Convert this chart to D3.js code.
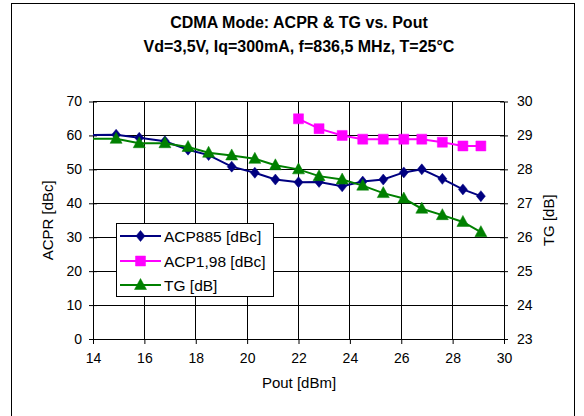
<!DOCTYPE html>
<html>
<head>
<meta charset="utf-8">
<script src="https://cdn.jsdelivr.net/npm/d3@7"></script>
<style>
  html, body { margin: 0; padding: 0; background: #fff; }
  svg { display: block; font-family: "Liberation Sans", Arial, sans-serif; }
</style>
</head>
<body>
<svg id="chart" width="584" height="416"></svg>
<script>
// ---- data ----
const pout = [13.0, 14.9, 15.8, 16.8, 17.7, 18.5, 19.4, 20.3, 21.1, 22.0, 22.8, 23.7, 24.5, 25.3, 26.1, 26.8, 27.6, 28.4, 29.1];
const acp885 = [60.0, 60.2, 59.3, 58.3, 55.8, 54.2, 50.8, 49.0, 47.0, 46.2, 46.3, 45.0, 46.4, 47.0, 49.1, 50.0, 47.2, 44.1, 42.1];
const acp198 = [null, null, null, null, null, null, null, null, null, 64.9, 62.0, 60.0, 58.9, 58.9, 58.9, 58.9, 58.0, 56.9, 56.9];
const tg = [28.9, 28.9, 28.77, 28.77, 28.66, 28.49, 28.41, 28.31, 28.12, 28.0, 27.8, 27.7, 27.52, 27.3, 27.14, 26.84, 26.65, 26.45, 26.15];
const xTicks = [14, 16, 18, 20, 22, 24, 26, 28, 30];
const yLeftTicks = [0, 10, 20, 30, 40, 50, 60, 70];
const yRightTicks = [23, 24, 25, 26, 27, 28, 29, 30];
const titleLines = ["CDMA Mode: ACPR & TG vs. Pout", "Vd=3,5V, Iq=300mA, f=836,5 MHz, T=25°C"];
const seriesNames = ["ACP885 [dBc]", "ACP1,98 [dBc]", "TG [dB]"];

// ---- layout ----
const svg = d3.select("#chart");
const L = 93, R = 504, T = 101.5, B = 339;
const FONT = '"Liberation Sans", Arial, sans-serif';

const x = d3.scaleLinear().domain([14, 30]).range([L, R]);
const yL = d3.scaleLinear().domain([0, 70]).range([B, T]);
const yR = d3.scaleLinear().domain([23, 30]).range([B, T]);

// outer frame
svg.append("rect").attr("x", 11.5).attr("y", 3.5).attr("width", 563).attr("height", 430)
  .attr("fill", "#fff").attr("stroke", "#000").attr("stroke-width", 1);

// titles
svg.append("text").attr("x", 299).attr("y", 28).attr("text-anchor", "middle")
  .attr("font-size", 16).attr("font-weight", "bold").text(titleLines[0]);
svg.append("text").attr("x", 299).attr("y", 52).attr("text-anchor", "middle")
  .attr("font-size", 16).attr("font-weight", "bold").text(titleLines[1]);

// gridlines
const grid = svg.append("g").attr("stroke", "#000").attr("stroke-width", 1).attr("shape-rendering", "crispEdges");
yLeftTicks.forEach(v => grid.append("line").attr("x1", L).attr("x2", R).attr("y1", yL(v)).attr("y2", yL(v)));
xTicks.forEach(v => grid.append("line").attr("x1", x(v)).attr("x2", x(v)).attr("y1", T).attr("y2", B));

// axes
const axLeft = svg.append("g").attr("transform", `translate(${L},0)`)
  .call(d3.axisLeft(yL).tickValues(yLeftTicks).tickFormat(d3.format("d")).tickSizeInner(4).tickSizeOuter(0).tickPadding(7));
const axRight = svg.append("g").attr("transform", `translate(${R},0)`)
  .call(d3.axisRight(yR).tickValues(yRightTicks).tickFormat(d3.format("d")).tickSizeInner(4).tickSizeOuter(0).tickPadding(9));
const axBottom = svg.append("g").attr("transform", `translate(0,${B})`)
  .call(d3.axisBottom(x).tickValues(xTicks).tickFormat(d3.format("d")).tickSizeInner(5).tickSizeOuter(0).tickPadding(9));
[axLeft, axRight, axBottom].forEach(a => {
  a.selectAll("text").attr("font-size", 14).attr("font-family", FONT).attr("fill", "#000");
  a.selectAll("line").attr("stroke", "#000");
  a.select(".domain").attr("stroke", "#000");
});
// cross ticks (extend inside too)
axLeft.selectAll(".tick").append("line").attr("x2", 4).attr("stroke", "#000");
axRight.selectAll(".tick").append("line").attr("x2", -4).attr("stroke", "#000");

// axis titles
svg.append("text").attr("x", 299).attr("y", 388).attr("text-anchor", "middle").attr("font-size", 15).text("Pout [dBm]");
svg.append("text").attr("transform", `translate(53,${(T + B) / 2}) rotate(-90)`).attr("text-anchor", "middle").attr("font-size", 15).text("ACPR [dBc]");
svg.append("text").attr("transform", `translate(554,${(T + B) / 2}) rotate(-90)`).attr("text-anchor", "middle").attr("font-size", 15).text("TG [dB]");

// clip for lines/markers (data beyond the left axis is cut)
svg.append("clipPath").attr("id", "lineclip").append("rect")
  .attr("x", L).attr("y", T - 8).attr("width", R - L + 14).attr("height", B - T + 16);

// marker shapes
const diamond = "M0,-5.5L4.5,0L0,5.5L-4.5,0Z";
const square = "M-5,-5H5V5H-5Z";
const triangle = "M0,-6.5L6,4.5L-6,4.5Z";

const series = [
  { name: seriesNames[0], vals: acp885, y: yL, color: "#000080", shape: diamond },
  { name: seriesNames[1], vals: acp198, y: yL, color: "#FF00FF", shape: square },
  { name: seriesNames[2], vals: tg, y: yR, color: "#008000", shape: triangle }
];

const plot = svg.append("g");
series.forEach(s => {
  const pts = pout.map((p, i) => ({ x: p, v: s.vals[i] })).filter(d => d.v != null);
  const line = d3.line().x(d => x(d.x)).y(d => s.y(d.v));
  plot.append("path").attr("d", line(pts)).attr("fill", "none").attr("stroke", s.color)
    .attr("stroke-width", 2).attr("clip-path", "url(#lineclip)");
  plot.append("g").attr("clip-path", "url(#lineclip)").selectAll("path").data(pts).join("path")
    .attr("d", s.shape).attr("transform", d => `translate(${x(d.x)},${s.y(d.v)})`)
    .attr("fill", s.color).attr("stroke", s.color).attr("stroke-width", 0.5);
});

// legend
const lg = svg.append("g");
lg.append("rect").attr("x", 116.5).attr("y", 223.5).attr("width", 157).attr("height", 73)
  .attr("fill", "#fff").attr("stroke", "#000").attr("stroke-width", 1);
const rows = [236, 261, 285];
series.forEach((s, i) => {
  const yy = rows[i];
  lg.append("line").attr("x1", 120).attr("x2", 161).attr("y1", yy).attr("y2", yy).attr("stroke", s.color).attr("stroke-width", 2);
  lg.append("path").attr("d", s.shape).attr("transform", `translate(140.5,${yy})`).attr("fill", s.color).attr("stroke", s.color).attr("stroke-width", 0.5);
  lg.append("text").attr("x", 164).attr("y", yy + 5.5).attr("font-size", 15.5).text(s.name);
});
</script>
</body>
</html>
